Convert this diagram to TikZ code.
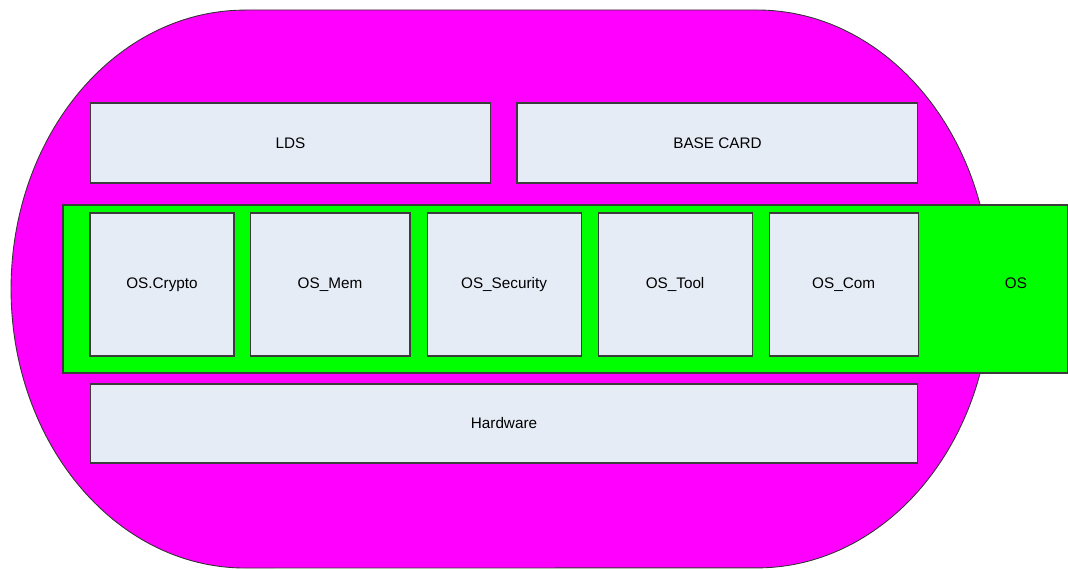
\documentclass[tikz,border=0pt]{standalone}
\usepackage{fontspec}
\setmainfont{Liberation Sans}
\usepackage{tikz}
\usetikzlibrary{positioning}

\definecolor{cardpink}{RGB}{255,0,255}
\definecolor{osgreen}{RGB}{0,255,0}
\definecolor{modfill}{RGB}{230,236,246}
\definecolor{modline}{RGB}{60,60,60}

\begin{document}
\begin{tikzpicture}[
            x=0.02cm, y=0.02cm,
            module/.style={draw=modline, line width=0.6pt, fill=modfill, rectangle, inner sep=0pt, font=\fontsize{8.7}{10}\selectfont},
            card/.style={draw=black!80, line width=0.5pt, fill=cardpink},
            osband/.style={draw=modline, line width=0.6pt, fill=osgreen},
            varlabel/.style={font=\fontsize{8.7}{10}\selectfont}
        ]

        \useasboundingbox (0,0) rectangle (1068,569);

        % Hintergrund
        \draw[card] (245,559) -- (757,559)
            arc[start angle=90, end angle=-90, x radius=4.68cm, y radius=5.58cm]
            -- (245,1)
            arc[start angle=270, end angle=90, x radius=4.68cm, y radius=5.58cm] -- cycle;
        \draw[osband] (63,196) rectangle (1068,364);

        % Knoten
        \node[module, minimum width=8.02cm, minimum height=1.6cm] (lds) at (290.5,426) {LDS};
        \node[module, minimum width=8.02cm, minimum height=1.6cm, right=0.5cm of lds] (base) {BASE CARD};

        \node[module, minimum width=2.88cm, minimum height=2.86cm] (crypto) at (162,284.5) {OS.Crypto};
        \node[module, minimum width=3.2cm, minimum height=2.86cm, right=0.3cm of crypto] (mem) {OS\_Mem};
        \node[module, minimum width=3.08cm, minimum height=2.86cm, right=0.32cm of mem] (sec) {OS\_Security};
        \node[module, minimum width=3.08cm, minimum height=2.86cm, right=0.32cm of sec] (tool) {OS\_Tool};
        \node[module, minimum width=2.98cm, minimum height=2.86cm, right=0.32cm of tool] (com) {OS\_Com};
        \node[varlabel] (os) at (1016,286) {OS};

        \node[module, minimum width=16.56cm, minimum height=1.58cm] (hw) at (504,145.5) {Hardware};

    \end{tikzpicture}
\end{document}
